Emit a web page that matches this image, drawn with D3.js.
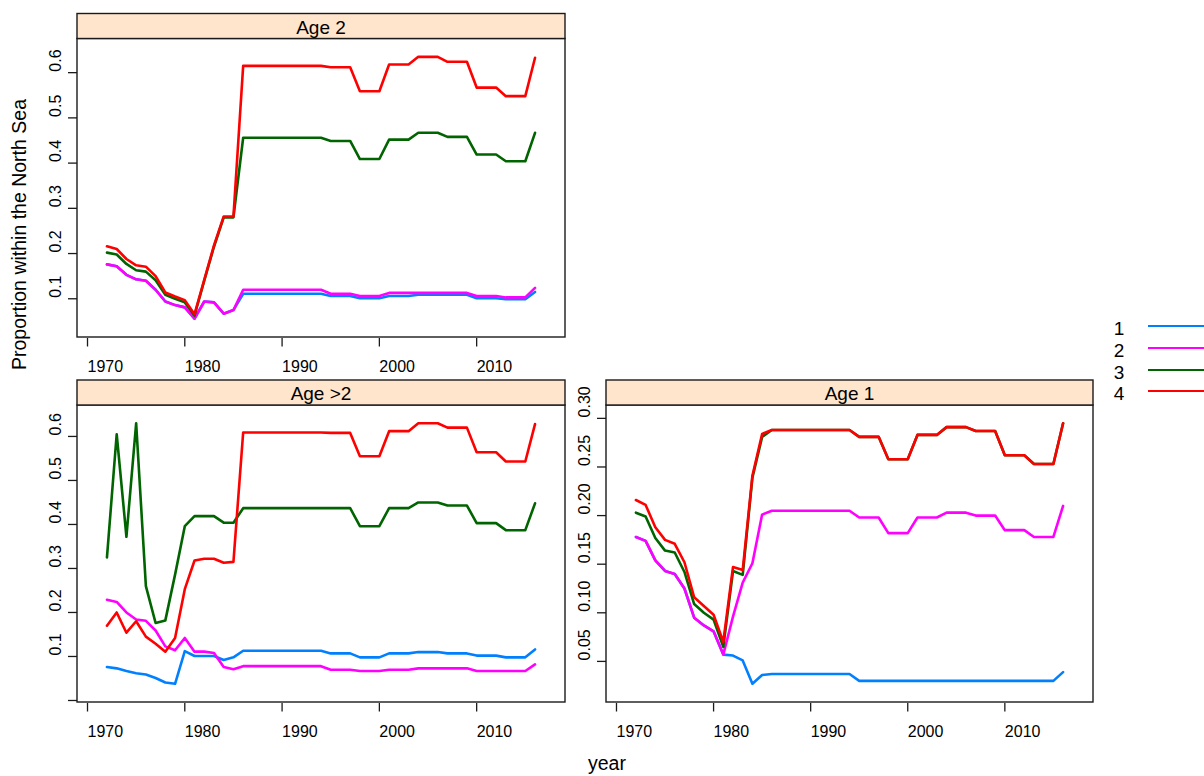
<!DOCTYPE html>
<html>
<head>
<meta charset="utf-8">
<script src="https://cdn.jsdelivr.net/npm/d3@7"></script>
<style>
  body { margin: 0; background: #ffffff; }
  svg { display: block; }
  text { font-family: "Liberation Sans", Arial, Helvetica, sans-serif; fill: #000; }
</style>
</head>
<body>
<svg id="chart" width="1204" height="776"></svg>
<script>
// ---- data -------------------------------------------------------------
const years = [1972,1973,1974,1975,1976,1977,1978,1979,1980,1981,1982,1983,1984,1985,
  1986,1987,1988,1989,1990,1991,1992,1993,1994,1995,1996,1997,1998,1999,2000,
  2001,2002,2003,2004,2005,2006,2007,2008,2009,2010,2011,2012,2013,2014,2015,2016];

const groups = ["1", "2", "3", "4"];
const groupColors = ["#0080ff", "#ff00ff", "#006400", "#ff0000"];

const xTicks = [1970, 1980, 1990, 2000, 2010];
const xTickLabels = ["1970", "1980", "1990", "2000", "2010"];

const age2Ticks = [0.1, 0.2, 0.3, 0.4, 0.5, 0.6];
const age2TickLabels = ["0.1", "0.2", "0.3", "0.4", "0.5", "0.6"];
const ageOlderTicks = [0.0, 0.1, 0.2, 0.3, 0.4, 0.5, 0.6];
const ageOlderTickLabels = ["", "0.1", "0.2", "0.3", "0.4", "0.5", "0.6"];
const age1Ticks = [0.05, 0.10, 0.15, 0.20, 0.25, 0.30];
const age1TickLabels = ["0.05", "0.10", "0.15", "0.20", "0.25", "0.30"];

// Age 2
const age2G1 = [0.176,0.172,0.153,0.143,0.140,0.120,0.094,0.086,0.081,0.056,0.094,0.092,0.067,0.075,
  0.111,0.111,0.111,0.111,0.111,0.111,0.111,0.111,0.111,0.106,0.106,0.106,0.101,0.101,0.101,
  0.106,0.106,0.106,0.109,0.109,0.109,0.109,0.109,0.109,0.101,0.101,0.101,0.099,0.099,0.099,0.115];
const age2G2 = [0.176,0.172,0.153,0.143,0.140,0.120,0.094,0.086,0.081,0.056,0.094,0.092,0.067,0.075,
  0.120,0.120,0.120,0.120,0.120,0.120,0.120,0.120,0.120,0.111,0.111,0.111,0.106,0.106,0.106,
  0.113,0.113,0.113,0.113,0.113,0.113,0.113,0.113,0.113,0.106,0.106,0.106,0.103,0.103,0.103,0.124];
const age2G3 = [0.202,0.198,0.177,0.163,0.160,0.141,0.109,0.100,0.092,0.063,0.140,0.215,0.280,0.280,
  0.456,0.456,0.456,0.456,0.456,0.456,0.456,0.456,0.456,0.449,0.449,0.449,0.409,0.409,0.409,
  0.452,0.452,0.452,0.467,0.467,0.467,0.458,0.458,0.458,0.419,0.419,0.419,0.404,0.404,0.404,0.467];
const age2G4 = [0.216,0.210,0.188,0.174,0.171,0.150,0.114,0.105,0.097,0.066,0.142,0.218,0.282,0.282,
  0.615,0.615,0.615,0.615,0.615,0.615,0.615,0.615,0.615,0.612,0.612,0.612,0.559,0.559,0.559,
  0.618,0.618,0.618,0.635,0.635,0.635,0.624,0.624,0.624,0.567,0.567,0.567,0.548,0.548,0.548,0.633];

// Age >2
const ageOlderG1 = [0.076,0.073,0.067,0.062,0.059,0.051,0.041,0.038,0.112,0.101,0.101,0.101,0.092,0.098,
  0.113,0.113,0.113,0.113,0.113,0.113,0.113,0.113,0.113,0.107,0.107,0.107,0.098,0.098,0.098,
  0.107,0.107,0.107,0.110,0.110,0.110,0.107,0.107,0.107,0.102,0.102,0.102,0.098,0.098,0.098,0.116];
const ageOlderG2 = [0.229,0.224,0.200,0.184,0.181,0.159,0.123,0.114,0.142,0.111,0.111,0.108,0.076,0.071,
  0.078,0.078,0.078,0.078,0.078,0.078,0.078,0.078,0.078,0.070,0.070,0.070,0.067,0.067,0.067,
  0.070,0.070,0.070,0.073,0.073,0.073,0.073,0.073,0.073,0.067,0.067,0.067,0.067,0.067,0.067,0.082];
const ageOlderG3 = [0.325,0.605,0.372,0.630,0.260,0.176,0.182,0.286,0.396,0.419,0.419,0.419,0.404,0.404,
  0.437,0.437,0.437,0.437,0.437,0.437,0.437,0.437,0.437,0.437,0.437,0.437,0.396,0.396,0.396,
  0.437,0.437,0.437,0.450,0.450,0.450,0.443,0.443,0.443,0.403,0.403,0.403,0.387,0.387,0.387,0.448];
const ageOlderG4 = [0.170,0.200,0.154,0.180,0.145,0.129,0.111,0.142,0.253,0.318,0.322,0.322,0.313,0.315,
  0.609,0.609,0.609,0.609,0.609,0.609,0.609,0.609,0.609,0.608,0.608,0.608,0.555,0.555,0.555,
  0.612,0.612,0.612,0.630,0.630,0.630,0.620,0.620,0.620,0.564,0.564,0.564,0.543,0.543,0.543,0.628];

// Age 1
const age1G1 = [0.178,0.174,0.154,0.143,0.140,0.125,0.095,0.087,0.081,0.057,0.056,0.051,0.027,0.036,
  0.037,0.037,0.037,0.037,0.037,0.037,0.037,0.037,0.037,0.030,0.030,0.030,0.030,0.030,0.030,
  0.030,0.030,0.030,0.030,0.030,0.030,0.030,0.030,0.030,0.030,0.030,0.030,0.030,0.030,0.030,0.039];
const age1G2 = [0.178,0.174,0.154,0.143,0.140,0.125,0.095,0.087,0.081,0.057,0.096,0.131,0.151,0.201,
  0.205,0.205,0.205,0.205,0.205,0.205,0.205,0.205,0.205,0.198,0.198,0.198,0.182,0.182,0.182,
  0.198,0.198,0.198,0.203,0.203,0.203,0.200,0.200,0.200,0.185,0.185,0.185,0.178,0.178,0.178,0.210];
const age1G3 = [0.203,0.199,0.177,0.164,0.162,0.142,0.109,0.100,0.093,0.065,0.143,0.139,0.239,0.281,
  0.288,0.288,0.288,0.288,0.288,0.288,0.288,0.288,0.288,0.281,0.281,0.281,0.258,0.258,0.258,
  0.283,0.283,0.283,0.291,0.291,0.291,0.287,0.287,0.287,0.262,0.262,0.262,0.253,0.253,0.253,0.295];
const age1G4 = [0.216,0.211,0.188,0.175,0.171,0.152,0.116,0.107,0.098,0.070,0.147,0.144,0.241,0.284,
  0.288,0.288,0.288,0.288,0.288,0.288,0.288,0.288,0.288,0.281,0.281,0.281,0.258,0.258,0.258,
  0.283,0.283,0.283,0.291,0.291,0.291,0.287,0.287,0.287,0.262,0.262,0.262,0.253,0.253,0.253,0.295];

// ---- panel table ------------------------------------------------------
const panels = [
  { name: "Age 2",  series: [age2G1, age2G2, age2G3, age2G4],
    ticks: age2Ticks, tickLabels: age2TickLabels, box: { x0: 77,  x1: 565,  top: 13.5, bottom: 337 } },
  { name: "Age >2", series: [ageOlderG1, ageOlderG2, ageOlderG3, ageOlderG4],
    ticks: ageOlderTicks, tickLabels: ageOlderTickLabels, box: { x0: 77,  x1: 565,  top: 380, bottom: 702 } },
  { name: "Age 1",  series: [age1G1, age1G2, age1G3, age1G4],
    ticks: age1Ticks, tickLabels: age1TickLabels, box: { x0: 606, x1: 1093, top: 380, bottom: 702 } }
];

const stripH = 25;
const pad = 0.07;           // range padding on each side of the data extent
const frameColor = "#1a1a1a";
const tickFont = "16px";
const svg = d3.select("#chart");

const xExt = d3.extent(years);
const xSpan = xExt[1] - xExt[0];
const xDomain = [xExt[0] - pad * xSpan, xExt[1] + pad * xSpan];

panels.forEach(p => {
  const b = p.box;
  const plotTop = b.top + stripH;
  const all = p.series.flat();
  const yExt = d3.extent(all);
  const ySpan = yExt[1] - yExt[0];

  const x = d3.scaleLinear().domain(xDomain).range([b.x0, b.x1]);
  const y = d3.scaleLinear().domain([yExt[0] - pad * ySpan, yExt[1] + pad * ySpan]).range([b.bottom, plotTop]);

  const g = svg.append("g").attr("class", "panel");

  // series lines (group 1 drawn first, group 4 last)
  const line = d3.line().x((d, i) => x(years[i])).y(d => y(d));
  p.series.forEach((vals, k) => {
    g.append("path")
      .datum(vals)
      .attr("d", line)
      .attr("fill", "none")
      .attr("stroke", groupColors[k])
      .attr("stroke-width", 2.6)
      .attr("stroke-linejoin", "round")
      .attr("stroke-linecap", "round");
  });

  // panel frame
  g.append("rect")
    .attr("x", b.x0).attr("y", plotTop)
    .attr("width", b.x1 - b.x0).attr("height", b.bottom - plotTop)
    .attr("fill", "none").attr("stroke", frameColor).attr("stroke-width", 1.4);

  // strip
  g.append("rect")
    .attr("x", b.x0).attr("y", b.top)
    .attr("width", b.x1 - b.x0).attr("height", stripH)
    .attr("fill", "#ffe5cc").attr("stroke", frameColor).attr("stroke-width", 1.4);
  g.append("text")
    .attr("x", (b.x0 + b.x1) / 2).attr("y", b.top + stripH - 5)
    .attr("text-anchor", "middle")
    .style("font-size", "19px")
    .text(p.name);

  // x axis: ticks below the frame, labels starting at each tick
  const xa = g.append("g");
  xTicks.forEach((t, i) => {
    const tx = x(t);
    xa.append("line")
      .attr("x1", tx).attr("x2", tx)
      .attr("y1", b.bottom + 1).attr("y2", b.bottom + 9.5)
      .attr("stroke", frameColor).attr("stroke-width", 1.3);
    xa.append("text")
      .attr("x", tx).attr("y", b.bottom + 34.5)
      .attr("text-anchor", "start")
      .style("font-size", tickFont)
      .text(xTickLabels[i]);
  });

  // y axis: ticks to the left, rotated labels ending at each tick
  const ya = g.append("g");
  p.ticks.forEach((t, i) => {
    const ty = y(t);
    ya.append("line")
      .attr("x1", b.x0 - 9).attr("x2", b.x0)
      .attr("y1", ty).attr("y2", ty)
      .attr("stroke", frameColor).attr("stroke-width", 1.3);
    if (p.tickLabels[i]) {
      ya.append("text")
        .attr("transform", `translate(${b.x0 - 16},${ty - 1}) rotate(-90)`)
        .attr("text-anchor", "start")
        .style("font-size", tickFont)
        .text(p.tickLabels[i]);
    }
  });
});

// axis titles
svg.append("text")
  .attr("transform", "translate(26,370) rotate(-90)")
  .attr("text-anchor", "start")
  .style("font-size", "19.5px")
  .text("Proportion within the North Sea");

svg.append("text")
  .attr("x", 588).attr("y", 770)
  .attr("text-anchor", "start")
  .style("font-size", "19.5px")
  .text("year");

// legend
const legendRows = [326, 348, 370, 391];
const legend = svg.append("g");
groups.forEach((name, k) => {
  const ly = legendRows[k];
  legend.append("text")
    .attr("x", 1119).attr("y", ly + 9)
    .attr("text-anchor", "middle")
    .style("font-size", "19px")
    .text(name);
  legend.append("line")
    .attr("x1", 1148).attr("x2", 1210)
    .attr("y1", ly).attr("y2", ly)
    .attr("stroke", groupColors[k])
    .attr("stroke-width", 1.8);
});
</script>
</body>
</html>
